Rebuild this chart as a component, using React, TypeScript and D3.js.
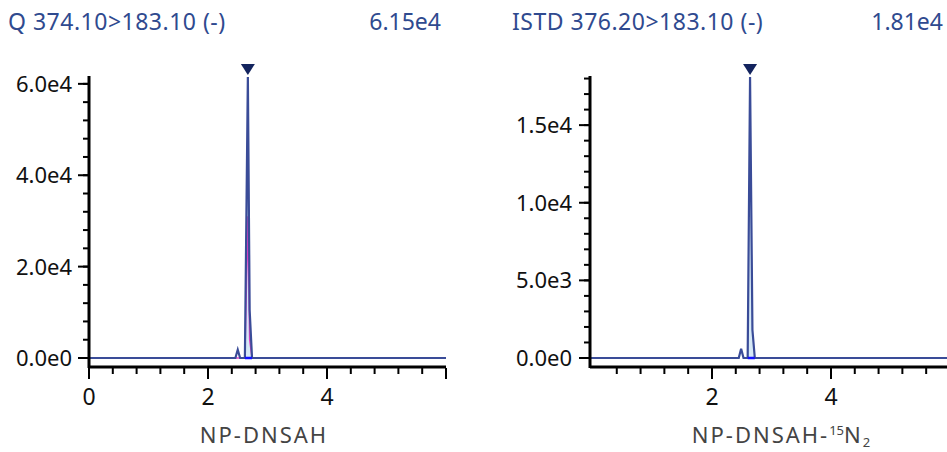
import React, { useRef, useEffect } from 'react';
import * as d3 from 'd3';

// analyte trace (Q 374.10>183.10)
const analyteTimes = [0, 2.4, 2.46, 2.5, 2.54, 2.62, 2.67, 2.7, 2.74, 6.0];
const analyteValues = [0, 0, 0, 1800, 0, 0, 61500, 10500, 0, 0];
const analyteSmooth = [0, 0, 0, 0, 0, 0, 31000, 4000, 0, 0];
const analytePeak = [2.62, 2.74];

// internal standard trace (ISTD 376.20>183.10)
const istdTimes = [-0.05, 2.4, 2.45, 2.49, 2.53, 2.6, 2.64, 2.68, 2.72, 6.0];
const istdValues = [0, 0, 0, 600, 0, 0, 18100, 1800, 0, 0];
const istdPeak = [2.6, 2.72];

const analyteYTicks = [0, 20000, 40000, 60000];
const analyteYLabels = ['0.0e0', '2.0e4', '4.0e4', '6.0e4'];
const istdYTicks = [0, 5000, 10000, 15000];
const istdYLabels = ['0.0e0', '5.0e3', '1.0e4', '1.5e4'];

const blue = '#3a4c98';
const titleBlue = '#2f4a8f';

type Panel = {
  left: number;
  right: number;
  xDomain: [number, number];
  yMax: number;
  times: number[];
  values: number[];
  smooth?: number[];
  peak: number[];
  yTicks: number[];
  yLabels: string[];
  yMinorStep: number;
  xLabelZero: boolean;
  title: string;
  maxLabel: string;
  titleX: number;
  maxX: number;
  xTitle: string;
  xTitleX: number;
  labelGap: number;
  sup?: boolean;
};

const App = () => {
  const svgRef = useRef<SVGSVGElement>(null);

  useEffect(() => {
    if (!svgRef.current) return;
    const svg = d3.select(svgRef.current);
    svg.selectAll('*').remove();

    const font = '"Noto Sans", "Open Sans", sans-serif';
    const y0 = 358;
    const yTop = 77;

    const panels: Panel[] = [
      {
        left: 89, right: 446, xDomain: [0, 6.0], yMax: 61500,
        times: analyteTimes, values: analyteValues, smooth: analyteSmooth, peak: analytePeak,
        yTicks: analyteYTicks, yLabels: analyteYLabels, yMinorStep: 4000, xLabelZero: true,
        title: 'Q 374.10>183.10 (-)', maxLabel: '6.15e4', titleX: 8, maxX: 441,
        xTitle: 'NP-DNSAH', xTitleX: 264, labelGap: 17
      },
      {
        left: 590, right: 947, xDomain: [-0.05, 5.95], yMax: 18100,
        times: istdTimes, values: istdValues, peak: istdPeak,
        yTicks: istdYTicks, yLabels: istdYLabels, yMinorStep: 1000, xLabelZero: false,
        title: 'ISTD 376.20>183.10 (-)', maxLabel: '1.81e4', titleX: 512, maxX: 943,
        xTitle: 'NP-DNSAH-', xTitleX: 782, labelGap: 18, sup: true
      }
    ];

    panels.forEach(p => {
      const x = d3.scaleLinear().domain(p.xDomain).range([p.left, p.right]);
      const y = d3.scaleLinear().domain([0, p.yMax]).range([y0, yTop]);
      const g = svg.append('g');

      // titles
      g.append('text').attr('x', p.titleX).attr('y', 30)
        .style('font-family', font).style('font-size', '23px').style('fill', titleBlue)
        .style('letter-spacing', '0.5px')
        .text(p.title);
      g.append('text').attr('x', p.maxX).attr('y', 30).attr('text-anchor', 'end')
        .style('font-family', font).style('font-size', '23px').style('fill', titleBlue)
        .text(p.maxLabel);

      const pts = p.times.map((t, i) => [t, p.values[i]] as [number, number]);

      // peak fill
      const inPeak = pts.filter(d => d[0] >= p.peak[0] && d[0] <= p.peak[1]);
      const area = d3.area<[number, number]>()
        .x(d => x(d[0])).y0(y(0)).y1(d => y(d[1]));
      g.append('path').attr('d', area(inPeak)).attr('fill', '#d6e9f6');

      // smoothed trace
      if (p.smooth) {
        const sm = p.times.map((t, i) => [t, p.smooth![i]] as [number, number]);
        g.append('path')
          .attr('d', d3.line<[number, number]>().x(d => x(d[0])).y(d => y(d[1]))(sm))
          .attr('fill', 'none').attr('stroke', '#e040c8').attr('stroke-width', 1.5);
      }

      // main trace
      g.append('path')
        .attr('d', d3.line<[number, number]>().x(d => x(d[0])).y(d => y(d[1]))(pts))
        .attr('fill', 'none').attr('stroke', blue).attr('stroke-width', 2.2)
        .attr('stroke-linejoin', 'miter');

      // integration baseline
      g.append('line')
        .attr('x1', x(p.peak[0])).attr('x2', x(p.peak[1]))
        .attr('y1', y(0)).attr('y2', y(0))
        .attr('stroke', '#1010ff').attr('stroke-width', 2.5);

      // apex marker
      const iMax = d3.maxIndex(p.values);
      const ax = x(p.times[iMax]);
      g.append('path')
        .attr('d', `M${ax - 7},${64}L${ax + 7},${64}L${ax},${75}Z`)
        .attr('fill', '#13245e');

      // y axis
      g.append('line').attr('x1', p.left).attr('x2', p.left).attr('y1', yTop - 1).attr('y2', 368)
        .attr('stroke', '#000').attr('stroke-width', 3);
      const minor = d3.range(0, p.yMax + 1, p.yMinorStep);
      minor.forEach(v => {
        g.append('line').attr('x1', p.left - 6).attr('x2', p.left).attr('y1', y(v)).attr('y2', y(v))
          .attr('stroke', '#000').attr('stroke-width', 2);
      });
      p.yTicks.forEach((v, i) => {
        g.append('line').attr('x1', p.left - 11).attr('x2', p.left).attr('y1', y(v)).attr('y2', y(v))
          .attr('stroke', '#000').attr('stroke-width', 2);
        g.append('text').attr('x', p.left - p.labelGap).attr('y', y(v)).attr('dy', '0.36em')
          .attr('text-anchor', 'end')
          .style('font-family', font).style('font-size', '22px').style('fill', '#111')
          .text(p.yLabels[i]);
      });

      // x axis
      g.append('line').attr('x1', p.left).attr('x2', p.right).attr('y1', 367).attr('y2', 367)
        .attr('stroke', '#000').attr('stroke-width', 3);
      const xt = d3.range(0, 6.01, 0.4).filter(v => v >= p.xDomain[0] + 0.02 || (p.xLabelZero && v === 0));
      xt.forEach(v => {
        const major = Math.abs(v / 2 - Math.round(v / 2)) < 1e-6;
        if (!p.xLabelZero && v === 0) return;
        const xv = x(v);
        if (xv > 946) return;
        g.append('line').attr('x1', xv).attr('x2', xv).attr('y1', 368).attr('y2', major ? 379 : 374)
          .attr('stroke', '#000').attr('stroke-width', 2);
        if (major && v < 5.9) {
          g.append('text').attr('x', xv).attr('y', 405).attr('text-anchor', 'middle')
            .style('font-family', font).style('font-size', '23px').style('fill', '#111')
            .text(String(Math.round(v)));
        }
      });

      // x title
      const xtText = g.append('text').attr('x', p.xTitleX).attr('y', 443)
        .attr('text-anchor', 'middle')
        .style('font-family', font).style('font-size', '22px').style('fill', '#444')
        .style('letter-spacing', '2px')
        .text(p.xTitle);
      if (p.sup) {
        xtText.append('tspan').attr('dy', -8).style('font-size', '13px').style('letter-spacing', '0px').text('15');
        xtText.append('tspan').attr('dy', 8).text('N');
        xtText.append('tspan').attr('dy', 4).style('font-size', '13px').text('2');
      }
    });
  }, []);

  return (
    <svg ref={svgRef} width={947} height={452}
      style={{ position: 'absolute', left: 0, top: 0, background: '#fff' }} />
  );
};

export default App;
